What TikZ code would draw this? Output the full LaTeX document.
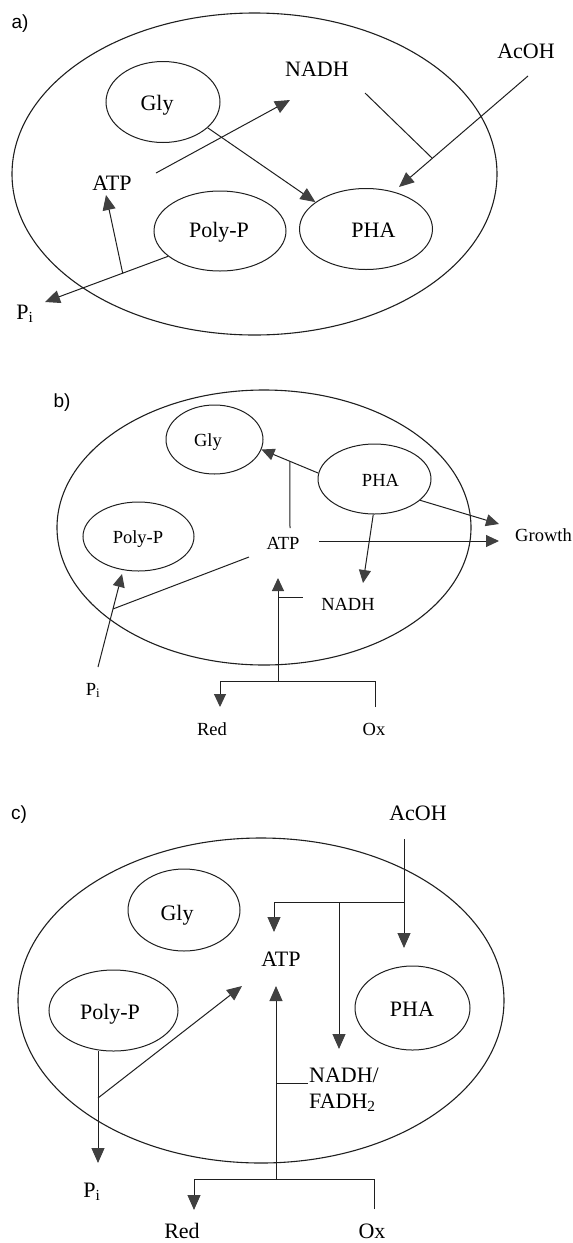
\documentclass[tikz,border=0pt]{standalone}
\usepackage{fontspec}
\setmainfont{Liberation Serif}
\newfontfamily\panelfont{Liberation Sans}
\usetikzlibrary{arrows.meta,shapes.geometric,calc}
\begin{document}
\begin{tikzpicture}[x=1pt,y=-1pt,
  ink/.style={draw=black!88},
  cell/.style={ink,ellipse,line width=1.1pt,inner sep=0pt},
  pool/.style={ink,ellipse,line width=1pt,inner sep=0pt},
  tbig/.style={anchor=base,inner sep=0pt,font=\fontsize{22}{26}\selectfont},
  tsmall/.style={anchor=base,inner sep=0pt,font=\fontsize{18.5}{22}\selectfont},
  panel/.style={anchor=base,inner sep=0pt,font=\panelfont\fontsize{19}{22}\selectfont},
  link/.style={ink,line width=1pt},
  arrbig/.style={link,-{Triangle[length=15pt,width=13pt,color=black!75]}},
  arrsmall/.style={link,-{Triangle[length=13pt,width=12pt,color=black!75]}}]
\useasboundingbox (0,0) rectangle (573,1243);

% ---------------- a) ----------------
\node[panel] (labA) at (20,28) {a)};
\node[cell,minimum width=485pt,minimum height=322pt] (cellA) at (254.5,174) {};
\node[pool,minimum width=114pt,minimum height=81pt] (glyA) at (163,102) {};
\node[pool,minimum width=132pt,minimum height=80pt] (polyA) at (220,231) {};
\node[pool,minimum width=133pt,minimum height=81pt] (phaA) at (366,229) {};
\node[tbig] (glyAt) at (157,110) {Gly};
\node[tbig] (polyAt) at (219,237) {Poly-P};
\node[tbig] (phaAt) at (373.5,237) {PHA};
\node[tbig] (nadhA) at (317,76) {NADH};
\node[tbig] (acohA) at (526,58) {AcOH};
\node[tbig] (atpA) at (112,190) {ATP};
\node[tbig] (piA) at (25,319) {P\textsubscript{i}};

\coordinate (aAtpOut) at (156,173);
\coordinate (aNadhIn) at (290,100);
\coordinate (aNadhOut) at (365,93);
\coordinate (aJoin) at (432,158);
\coordinate (aAcohOut) at (528,76);
\coordinate (aPhaIn) at (399,187);
\coordinate (aPiIn) at (45,302);
\coordinate (aFork) at ($(polyA.206)!0.369!(aPiIn)$);
\coordinate (aAtpIn) at (106,195);

\draw[arrbig] (aAtpOut) -- (aNadhIn);
\draw[arrbig] (glyA.-30) -- (phaA.152);
\draw[link] (aNadhOut) -- (aJoin);
\draw[arrbig] (aAcohOut) -- (aPhaIn);
\draw[arrbig] (polyA.206) -- (aPiIn);
\draw[arrbig] (aFork) -- (aAtpIn);

% ---------------- b) ----------------
\node[panel] (labB) at (62,407) {b)};
\node[cell,minimum width=414pt,minimum height=275pt] (cellB) at (264,527.5) {};
\node[pool,minimum width=97pt,minimum height=69pt] (glyB) at (214.5,439.5) {};
\node[pool,minimum width=111pt,minimum height=69pt] (polyB) at (138.5,536.5) {};
\node[pool,minimum width=113pt,minimum height=70pt] (phaB) at (374.5,479) {};
\node[tsmall] (glyBt) at (208,446) {Gly};
\node[tsmall] (polyBt) at (138,543) {Poly-P};
\node[tsmall] (phaBt) at (380.5,486) {PHA};
\node[tsmall] (atpB) at (283,549) {ATP};
\node[tsmall] (growth) at (543.5,541) {Growth};
\node[tsmall] (nadhB) at (348,610) {NADH};
\node[tsmall] (piB) at (93,695) {P\textsubscript{i}};
\node[tsmall] (redB) at (212,735) {Red};
\node[tsmall] (oxB) at (374,735) {Ox};

\coordinate (bJoin) at ($(phaB.174)!0.5!(glyB.-12)$);
\coordinate (bAtpTop) at (290,528);
\coordinate (bGrowthIn1) at (499,524);
\coordinate (bAtpRight) at (319,541);
\coordinate (bGrowthIn2) at (499,541);
\coordinate (bNadhIn) at (363,583);
\coordinate (bPiOut) at (98,667);
\coordinate (bPolyIn) at (122,574);
\coordinate (bFork) at ($(bPiOut)!0.624!(bPolyIn)$);
\coordinate (bAtpLeft) at (249,557);
\coordinate (bBarL) at (220,681);
\coordinate (bBarM) at (278,681);
\coordinate (bBarR) at (375,681);
\coordinate (bRedEnd) at (220,707);
\coordinate (bOxEnd) at (375,707);
\coordinate (bAtpIn) at (278,578);
\coordinate (bTick) at (278,597);
\coordinate (bTickEnd) at (303,597);

\draw[arrsmall] (phaB.174) -- (glyB.-12);
\draw[link] (bAtpTop) -- (bJoin);
\draw[arrsmall] (phaB.-25) -- (bGrowthIn1);
\draw[arrsmall] (bAtpRight) -- (bGrowthIn2);
\draw[arrsmall] (phaB.268) -- (bNadhIn);
\draw[arrsmall] (bPiOut) -- (bPolyIn);
\draw[link] (bAtpLeft) -- (bFork);
\draw[arrsmall] (bOxEnd) -- (bBarR) -- (bBarL) -- (bRedEnd);
\draw[arrsmall] (bBarM) -- (bAtpIn);
\draw[link] (bTick) -- (bTickEnd);

% ---------------- c) ----------------
\node[panel] (labC) at (19,819) {c)};
\node[cell,minimum width=486pt,minimum height=325pt] (cellC) at (261,1000.5) {};
\node[pool,minimum width=112pt,minimum height=82pt] (glyC) at (184,910) {};
\node[pool,minimum width=129pt,minimum height=81pt] (polyC) at (113.5,1010.5) {};
\node[pool,minimum width=115pt,minimum height=84pt] (phaC) at (412.5,1008) {};
\node[tbig] (glyCt) at (177,920) {Gly};
\node[tbig] (polyCt) at (110,1019) {Poly-P};
\node[tbig] (phaCt) at (412,1016) {PHA};
\node[tbig] (atpC) at (281,966) {ATP};
\node[tbig] (acohC) at (418,820) {AcOH};
\node[tbig,anchor=base west] (nadhC) at (309,1082) {NADH/};
\node[tbig,anchor=base west] (fadhC) at (309,1108) {FADH\textsubscript{2}};
\node[tbig] (piC) at (92,1197) {P\textsubscript{i}};
\node[tbig] (redC) at (182,1238) {Red};
\node[tbig] (oxC) at (372,1238) {Ox};

\coordinate (cAcohOut) at (404,839);
\coordinate (cPhaIn) at (404,948);
\coordinate (cBarR) at (404,902);
\coordinate (cBarM) at (339,902);
\coordinate (cBarL) at (274,902);
\coordinate (cAtpIn) at (274,932);
\coordinate (cNadhIn) at (339,1049);
\coordinate (cPolyOut) at (98,1051);
\coordinate (cPiIn) at (98,1163);
\coordinate (cFork) at (98,1098);
\coordinate (cAtpIn2) at (242,986);
\coordinate (cBotM) at (276,1179);
\coordinate (cAtpIn3) at (276,986);
\coordinate (cTick) at (276,1083);
\coordinate (cTickEnd) at (308,1083);
\coordinate (cBotL) at (194,1179);
\coordinate (cBotR) at (374,1179);
\coordinate (cRedEnd) at (194,1210);
\coordinate (cOxEnd) at (374,1209);

\draw[arrbig] (cAcohOut) -- (cPhaIn);
\draw[arrbig] (cBarR) -- (cBarL) -- (cAtpIn);
\draw[arrbig] (cBarM) -- (cNadhIn);
\draw[arrbig] (cPolyOut) -- (cPiIn);
\draw[arrbig] (cFork) -- (cAtpIn2);
\draw[arrbig] (cBotM) -- (cAtpIn3);
\draw[link] (cTick) -- (cTickEnd);
\draw[arrbig] (cOxEnd) -- (cBotR) -- (cBotL) -- (cRedEnd);
\end{tikzpicture}
\end{document}
